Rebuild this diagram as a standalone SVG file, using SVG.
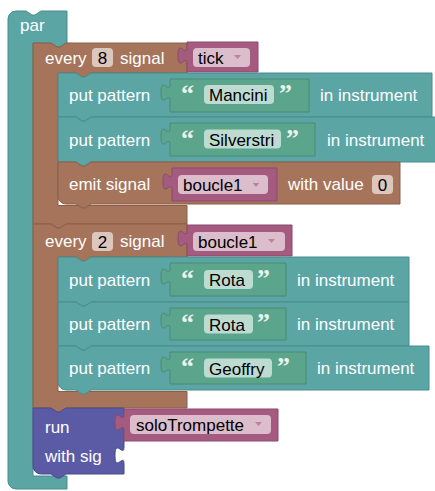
<svg xmlns="http://www.w3.org/2000/svg" width="435" height="491" viewBox="0 0 435 491">
  <style>
    .lbl { font-family: "Liberation Sans", Arial, sans-serif; font-size: 17px; fill: #ffffff; }
    .fld { font-family: "Liberation Sans", Arial, sans-serif; font-size: 17px; fill: #000000; }
    .num { font-family: "Liberation Sans", Arial, sans-serif; font-size: 17px; fill: #000000; text-anchor: middle; }
    .quo { font-family: "Liberation Serif", "Times New Roman", serif; font-size: 26px; font-weight: bold; fill: #e9f3ee; }
    .teal { fill: #5ba5a5; stroke: #4b8c8c; stroke-width: 1; }
    .brown { fill: #a5745b; stroke: #8a5f4a; stroke-width: 1; }
    .mag { fill: #a55b80; stroke: #8a4a6a; stroke-width: 1; }
    .grn { fill: #5ba58c; stroke: #4a8a74; stroke-width: 1; }
    .pur { fill: #5b5ba5; stroke: #4a4a8a; stroke-width: 1; }
    .box { fill: #ffffff; fill-opacity: 0.6; }
    .arr { fill: #a55b80; fill-opacity: 0.6; }
  </style>

  <!-- par: outer C-shaped statement block -->
  <g id="par">
    <path class="teal" d="M8,19 a8,8 0 0 1 8,-8 H26 l6,4 3,0 6,-4 H67 V43 H66 l-6,4 -3,0 -6,-4 H33 V476 H67 V489 H16 a8,8 0 0 1 -8,-8 Z"/>
    <text class="lbl" x="20" y="31">par</text>
  </g>

  <!-- every 8 signal tick -->
  <g id="every1">
    <path class="brown" d="M33,43 H51 l6,4 3,0 6,-4 H187 V73 H91 l-6,4 -3,0 -6,-4 H58 V205.5 H187 V224 H66 l-6,4 -3,0 -6,-4 H33 Z"/>
    <text class="lbl" x="45" y="64">every</text>
    <rect class="box" x="92" y="48" width="21" height="19" rx="4"/>
    <text class="num" x="102.5" y="64">8</text>
    <text class="lbl" x="120" y="64">signal</text>
    <g id="tick">
      <path class="mag" d="M187,42 H258 V72 H187 V64 c0,-11 -9,9 -9,-8.5 s9,3 9,-8.5 Z"/>
      <rect class="box" x="193" y="48" width="57" height="19" rx="4"/>
      <text class="fld" x="198" y="64">tick</text>
      <polygon class="arr" points="234,55 241,55 237.5,59"/>
    </g>
  </g>

  <!-- put pattern Mancini -->
  <g id="put1">
    <path class="teal" d="M58,73 H76 l6,4 3,0 6,-4 H432 V117 H91 l-6,4 -3,0 -6,-4 H58 Z"/>
    <text class="lbl" x="69" y="101">put pattern</text>
    <path class="grn" d="M170,79 H309 V112 H170 V101 c0,-11 -9,9 -9,-8.5 s9,3 9,-8.5 Z"/>
    <text class="quo" x="181" y="102">“</text>
    <rect class="box" x="204" y="85" width="70" height="19" rx="4"/>
    <text class="fld" x="209" y="101">Mancini</text>
    <text class="quo" x="279" y="102">”</text>
    <text class="lbl" x="320" y="101">in instrument</text>
  </g>

  <!-- put pattern Silverstri -->
  <g id="put2">
    <path class="teal" d="M58,117 H76 l6,4 3,0 6,-4 H436 V162 H91 l-6,4 -3,0 -6,-4 H58 Z"/>
    <text class="lbl" x="69" y="145.5">put pattern</text>
    <path class="grn" d="M170,123 H315 V156 H170 V145 c0,-11 -9,9 -9,-8.5 s9,3 9,-8.5 Z"/>
    <text class="quo" x="181" y="146.5">“</text>
    <rect class="box" x="204" y="129.5" width="77" height="19" rx="4"/>
    <text class="fld" x="209" y="145.5">Silverstri</text>
    <text class="quo" x="286" y="146.5">”</text>
    <text class="lbl" x="327" y="145.5">in instrument</text>
  </g>

  <!-- emit signal boucle1 with value 0 -->
  <g id="emit">
    <path class="brown" d="M58,162 H76 l6,4 3,0 6,-4 H400 V204 H91 l-6,4 -3,0 -6,-4 H66 a8,8 0 0 1 -8,-8 Z"/>
    <text class="lbl" x="69" y="190">emit signal</text>
    <path class="mag" d="M172,168 H277 V201 H172 V190 c0,-11 -9,9 -9,-8.5 s9,3 9,-8.5 Z"/>
    <rect class="box" x="178" y="175" width="90" height="19" rx="4"/>
    <text class="fld" x="183" y="191">boucle1</text>
    <polygon class="arr" points="252.5,183 259.5,183 256,187"/>
    <text class="lbl" x="288" y="190">with value</text>
    <rect class="box" x="372" y="175" width="21" height="19" rx="4"/>
    <text class="num" x="382.5" y="191">0</text>
  </g>

  <!-- every 2 signal boucle1 -->
  <g id="every2">
    <path class="brown" d="M33,224 H51 l6,4 3,0 6,-4 H187 V257 H91 l-6,4 -3,0 -6,-4 H58 V391.5 H187 V408 H66 l-6,4 -3,0 -6,-4 H33 Z"/>
    <text class="lbl" x="45" y="247">every</text>
    <rect class="box" x="92" y="232" width="21" height="19" rx="4"/>
    <text class="num" x="102.5" y="247.5">2</text>
    <text class="lbl" x="120" y="247">signal</text>
    <g id="boucle1">
      <path class="mag" d="M187,225 H292 V256 H187 V247 c0,-11 -9,9 -9,-8.5 s9,3 9,-8.5 Z"/>
      <rect class="box" x="193" y="232" width="92" height="19" rx="4"/>
      <text class="fld" x="198" y="247.5">boucle1</text>
      <polygon class="arr" points="268,239 275,239 271.5,243"/>
    </g>
  </g>

  <!-- put pattern Rota -->
  <g id="put3">
    <path class="teal" d="M58,257 H76 l6,4 3,0 6,-4 H409 V302 H91 l-6,4 -3,0 -6,-4 H58 Z"/>
    <text class="lbl" x="69" y="285.5">put pattern</text>
    <path class="grn" d="M170,263 H286 V296 H170 V285 c0,-11 -9,9 -9,-8.5 s9,3 9,-8.5 Z"/>
    <text class="quo" x="181" y="286.5">“</text>
    <rect class="box" x="204" y="270" width="49" height="19" rx="4"/>
    <text class="fld" x="209" y="286">Rota</text>
    <text class="quo" x="257" y="286.5">”</text>
    <text class="lbl" x="297" y="285.5">in instrument</text>
  </g>

  <!-- put pattern Rota -->
  <g id="put4">
    <path class="teal" d="M58,302 H76 l6,4 3,0 6,-4 H409 V346 H91 l-6,4 -3,0 -6,-4 H58 Z"/>
    <text class="lbl" x="69" y="330">put pattern</text>
    <path class="grn" d="M170,308 H286 V340 H170 V329 c0,-11 -9,9 -9,-8.5 s9,3 9,-8.5 Z"/>
    <text class="quo" x="181" y="331">“</text>
    <rect class="box" x="204" y="314.5" width="49" height="19" rx="4"/>
    <text class="fld" x="209" y="330.5">Rota</text>
    <text class="quo" x="257" y="331">”</text>
    <text class="lbl" x="297" y="330">in instrument</text>
  </g>

  <!-- put pattern Geoffry -->
  <g id="put5">
    <path class="teal" d="M58,346 H76 l6,4 3,0 6,-4 H429 V390 H91 l-6,4 -3,0 -6,-4 H66 a8,8 0 0 1 -8,-8 Z"/>
    <text class="lbl" x="69" y="374">put pattern</text>
    <path class="grn" d="M170,352 H306 V384 H170 V373 c0,-11 -9,9 -9,-8.5 s9,3 9,-8.5 Z"/>
    <text class="quo" x="181" y="375">“</text>
    <rect class="box" x="204" y="358.5" width="68" height="19" rx="4"/>
    <text class="fld" x="209" y="374.5">Geoffry</text>
    <text class="quo" x="277" y="375">”</text>
    <text class="lbl" x="317" y="374">in instrument</text>
  </g>

  <!-- run soloTrompette with sig -->
  <g id="run">
    <path class="pur" d="M33,408 H51 l6,4 3,0 6,-4 H124 V447 c0,11 -9,-9 -9,8.5 s9,-3 9,8.5 V474 H66 l-6,4 -3,0 -6,-4 H41 a8,8 0 0 1 -8,-8 Z"/>
    <text class="lbl" x="45" y="433">run</text>
    <text class="lbl" x="45" y="462">with sig</text>
    <g id="soloTrompette">
      <path class="mag" d="M124,409 H278 V441 H124 V431 c0,-11 -9,9 -9,-8.5 s9,3 9,-8.5 Z"/>
      <rect class="box" x="130" y="415" width="141" height="19" rx="4"/>
      <text class="fld" x="136" y="431">soloTrompette</text>
      <polygon class="arr" points="255,422 262,422 258.5,426"/>
    </g>
  </g>
</svg>
